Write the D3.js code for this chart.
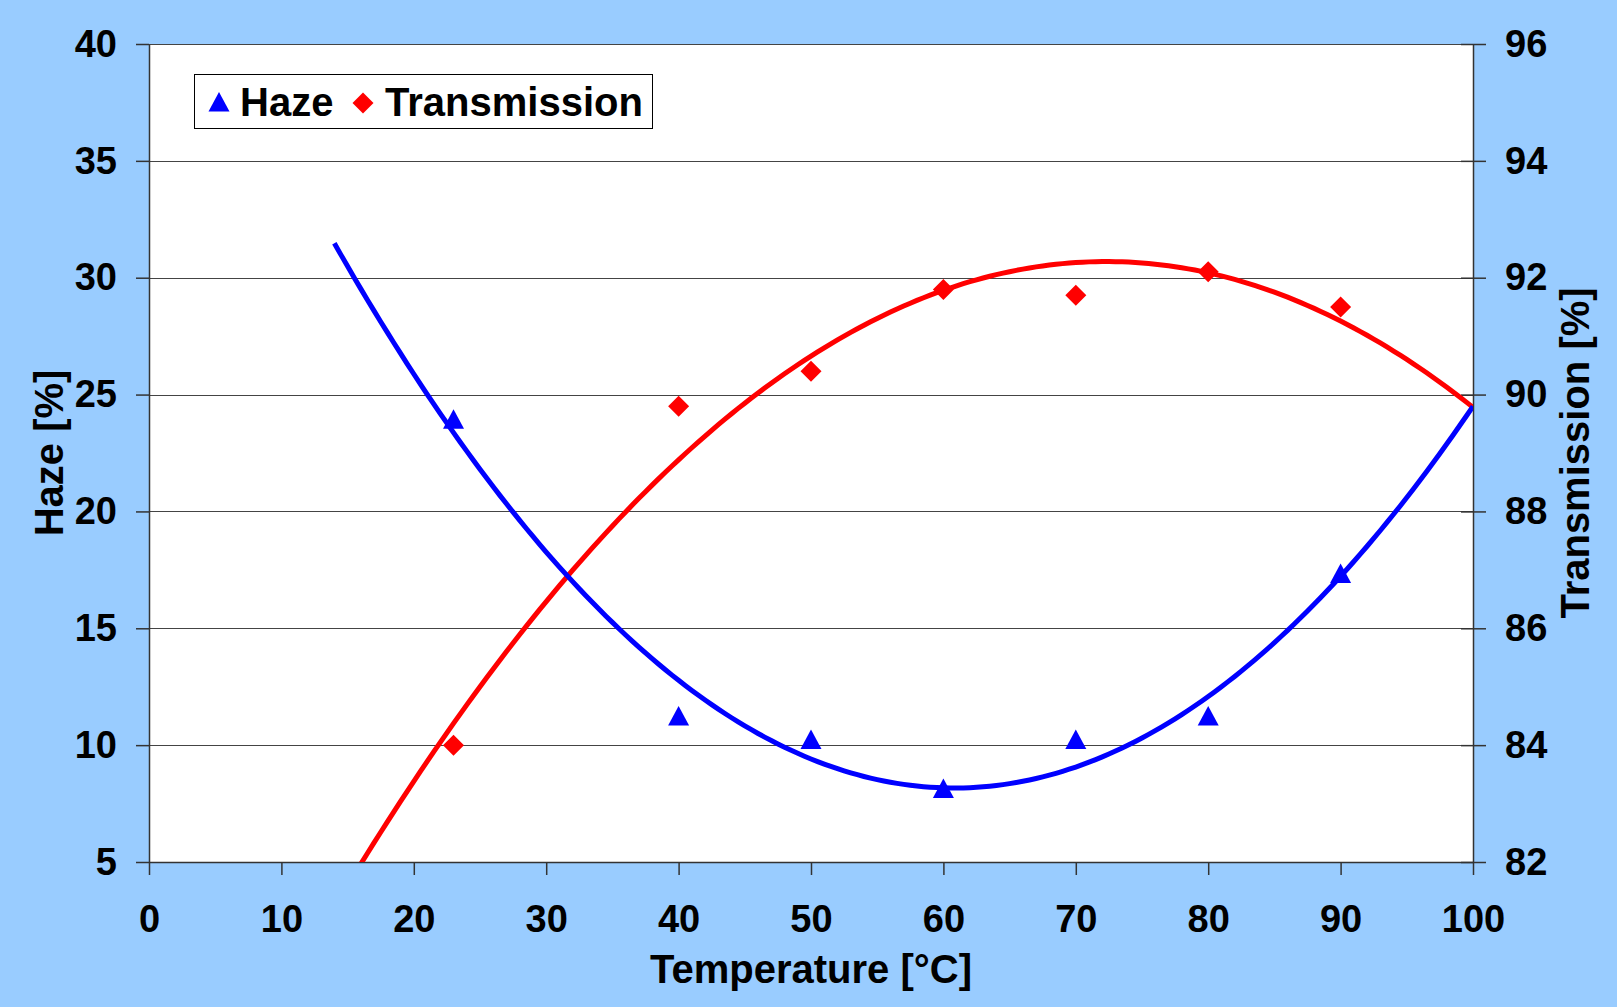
<!DOCTYPE html>
<html>
<head>
<meta charset="utf-8">
<script src="https://cdn.jsdelivr.net/npm/d3@7"></script>
<style>
  body { margin: 0; background: #99ccff; }
  svg { display: block; font-family: "Liberation Sans", Arial, sans-serif; font-weight: bold; }
</style>
</head>
<body>
<div class="chart"></div>
<script>
// DATA ------------------------------
const temps = [23, 40, 50, 60, 70, 80, 90];
const haze = [23.9, 11.2, 10.2, 8.1, 10.2, 11.2, 17.3];
const transmission = [84.0, 89.8, 90.4, 91.8, 91.7, 92.1, 91.5];

const xTicks = [0, 10, 20, 30, 40, 50, 60, 70, 80, 90, 100];
const hazeTicks = [5, 10, 15, 20, 25, 30, 35, 40];
const transTicks = [82, 84, 86, 88, 90, 92, 94, 96];

// trendline range (polynomial order 2, with forecast)
const trendFrom = 14, trendTo = 100;

// CHART INIT ------------------------
const W = 1617, H = 1007;
const margin = ({top: 44, right: 144, bottom: 145, left: 149});
const w = W - margin.left - margin.right,
      h = H - margin.top - margin.bottom;

const root = d3.select(".chart")
  .append("svg")
  .attr("width", W)
  .attr("height", H);

root.append("rect").attr("width", W).attr("height", H).attr("fill", "#99ccff");

const svg = root.append("g")
  .attr("transform", `translate(${margin.left},${margin.top})`);

svg.append("rect").attr("width", w).attr("height", h).attr("fill", "#fff");

svg.append("clipPath").attr("id", "plot-clip")
  .append("rect").attr("width", w).attr("height", h);

// scales
const xScale = d3.scaleLinear().domain([0, 100]).range([0, w]);
const yHaze = d3.scaleLinear().domain([5, 40]).range([h, 0]);
const yTrans = d3.scaleLinear().domain([82, 96]).range([h, 0]);

// gridlines
svg.append("g")
  .selectAll("line")
  .data(hazeTicks.slice(1))
  .join("line")
  .attr("x1", 0).attr("x2", w)
  .attr("y1", d => Math.round(yHaze(d)) + 0.5)
  .attr("y2", d => Math.round(yHaze(d)) + 0.5)
  .attr("stroke", "#444")
  .attr("stroke-width", 1);

// axes
const tickFont = 38, titleFont = 40;

const xAxis = d3.axisBottom(xScale).tickValues(xTicks).tickSize(13).tickSizeOuter(0).tickPadding(30);
const yAxisL = d3.axisLeft(yHaze).tickValues(hazeTicks).tickSize(13).tickSizeOuter(0).tickPadding(19);
const yAxisR = d3.axisRight(yTrans).tickValues(transTicks).tickSize(13).tickSizeOuter(0).tickPadding(19);

function styleAxis(g) {
  g.select(".domain").attr("stroke", "#333").attr("stroke-width", 1.5);
  g.selectAll(".tick line").attr("stroke", "#333").attr("stroke-width", 1.5);
  g.selectAll(".tick text")
    .attr("fill", "#000")
    .style("font-size", tickFont + "px")
    .style("font-weight", "bold")
    .style("font-family", '"Liberation Sans", Arial, sans-serif');
}

svg.append("g")
  .attr("class", "axis x-axis")
  .attr("transform", `translate(0,${h})`)
  .call(xAxis)
  .call(styleAxis);

svg.append("g")
  .attr("class", "axis y-axis")
  .call(yAxisL)
  .call(styleAxis);

svg.append("g")
  .attr("class", "axis y2-axis")
  .attr("transform", `translate(${w},0)`)
  .call(yAxisR)
  .call(styleAxis)
  .call(g => g.selectAll(".tick line").attr("x1", -12)); // cross ticks

// axis titles
svg.append("text")
  .attr("x", w / 2)
  .attr("y", h + 121)
  .attr("text-anchor", "middle")
  .style("font-size", titleFont + "px")
  .text("Temperature [°C]");

svg.append("text")
  .attr("transform", `translate(${-margin.left + 63},${h / 2}) rotate(-90)`)
  .attr("text-anchor", "middle")
  .style("font-size", titleFont + "px")
  .text("Haze [%]");

svg.append("text")
  .attr("transform", `translate(${w + 116},${h / 2}) rotate(-90)`)
  .attr("text-anchor", "middle")
  .style("font-size", titleFont + "px")
  .text("Transmission [%]");

// TRENDLINES ------------------------
function polyFit(xs, ys, order) {
  const n = order + 1;
  const A = Array.from({length: n}, () => new Array(n + 1).fill(0));
  xs.forEach((x, k) => {
    for (let i = 0; i < n; i++) {
      for (let j = 0; j < n; j++) A[i][j] += Math.pow(x, i + j);
      A[i][n] += ys[k] * Math.pow(x, i);
    }
  });
  // gaussian elimination
  for (let i = 0; i < n; i++) {
    let p = i;
    for (let r = i + 1; r < n; r++) if (Math.abs(A[r][i]) > Math.abs(A[p][i])) p = r;
    [A[i], A[p]] = [A[p], A[i]];
    for (let r = i + 1; r < n; r++) {
      const f = A[r][i] / A[i][i];
      for (let c = i; c <= n; c++) A[r][c] -= f * A[i][c];
    }
  }
  const coef = new Array(n).fill(0);
  for (let i = n - 1; i >= 0; i--) {
    let s = A[i][n];
    for (let j = i + 1; j < n; j++) s -= A[i][j] * coef[j];
    coef[i] = s / A[i][i];
  }
  return x => coef.reduce((acc, c, i) => acc + c * Math.pow(x, i), 0);
}

const hazeFit = polyFit(temps, haze, 2);
const transFit = polyFit(temps, transmission, 2);
const xs = d3.range(trendFrom, trendTo + 0.001, 0.5);

const plot = svg.append("g").attr("clip-path", "url(#plot-clip)");

plot.append("path")
  .datum(xs)
  .attr("fill", "none")
  .attr("stroke", "#ff0000")
  .attr("stroke-width", 5)
  .attr("d", d3.line().x(d => xScale(d)).y(d => yTrans(transFit(d))));

plot.append("path")
  .datum(xs)
  .attr("fill", "none")
  .attr("stroke", "#0000ff")
  .attr("stroke-width", 5)
  .attr("d", d3.line().x(d => xScale(d)).y(d => yHaze(hazeFit(d))));

// MARKERS ---------------------------
const triangle = "M0,-11L10.5,8.5L-10.5,8.5Z";
const diamond = "M0,-10.5L10.5,0L0,10.5L-10.5,0Z";

svg.append("g")
  .selectAll("path")
  .data(temps.map((t, i) => ({t, v: transmission[i]})))
  .join("path")
  .attr("d", diamond)
  .attr("fill", "#ff0000")
  .attr("transform", d => `translate(${xScale(d.t)},${yTrans(d.v)})`);

svg.append("g")
  .selectAll("path")
  .data(temps.map((t, i) => ({t, v: haze[i]})))
  .join("path")
  .attr("d", triangle)
  .attr("fill", "#0000ff")
  .attr("transform", d => `translate(${xScale(d.t)},${yHaze(d.v)})`);

// LEGEND ----------------------------
const legend = svg.append("g").attr("transform", "translate(45,30)");
legend.append("rect")
  .attr("x", 0.5).attr("y", 0.5)
  .attr("width", 458).attr("height", 54)
  .attr("fill", "#fff")
  .attr("stroke", "#000")
  .attr("stroke-width", 1);

legend.append("path").attr("d", triangle).attr("fill", "#0000ff")
  .attr("transform", "translate(25,29)");
legend.append("text").attr("x", 46).attr("y", 42)
  .style("font-size", titleFont + "px").text("Haze");

legend.append("path").attr("d", diamond).attr("fill", "#ff0000")
  .attr("transform", "translate(169,29)");
legend.append("text").attr("x", 191).attr("y", 42)
  .style("font-size", titleFont + "px").text("Transmission");
</script>
</body>
</html>
